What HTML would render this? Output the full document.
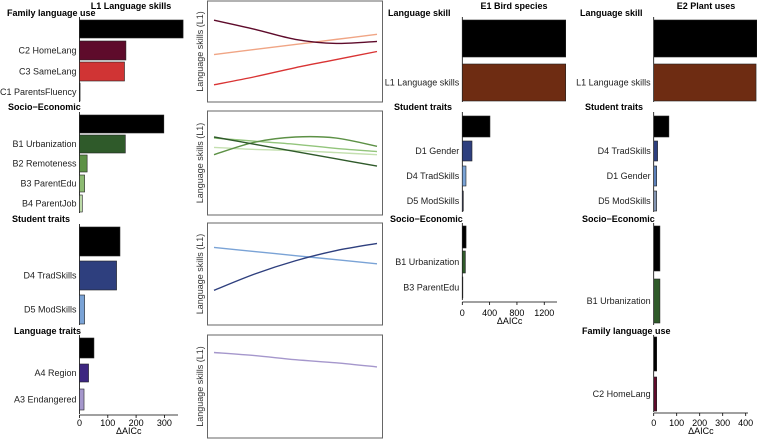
<!DOCTYPE html>
<html><head><meta charset="utf-8">
<style>
html,body{margin:0;padding:0;background:#fff;}
svg{display:block;font-family:"Liberation Sans",Arial,sans-serif;}
</style></head>
<body>
<svg id="chart" width="757" height="440" viewBox="0 0 757 440" xmlns="http://www.w3.org/2000/svg">
<text x="131" y="9" font-size="9" font-weight="bold" text-anchor="middle">L1 Language skills</text>
<text x="514" y="9" font-size="9" font-weight="bold" text-anchor="middle">E1 Bird species</text>
<text x="706" y="9" font-size="9" font-weight="bold" text-anchor="middle">E2 Plant uses</text>
</svg>
<script>
// ---- L1 bar data ----
const l1Labels = ["", "C2 HomeLang", "C3 SameLang", "C1 ParentsFluency", "", "B1 Urbanization", "B2 Remoteness", "B3 ParentEdu", "B4 ParentJob", "", "D4 TradSkills", "D5 ModSkills", "", "A4 Region", "A3 Endangered"];
const l1Values = [366, 164, 159, 2, 298, 162, 27, 18, 10, 143, 131, 18, 51, 32, 16];
const l1Ticks = [0, 100, 200, 300];
// ---- E1 bar data ----
const e1Labels = ["", "L1 Language skills", "", "D1 Gender", "D4 TradSkills", "D5 ModSkills", "", "B1 Urbanization", "B3 ParentEdu"];
const e1Values = [1514, 1514, 405, 142, 54, 15, 55, 45, 8];
const e1Ticks = [0, 400, 800, 1200];
// ---- E2 bar data ----
const e2Labels = ["", "L1 Language skills", "", "D4 TradSkills", "D1 Gender", "D5 ModSkills", "", "B1 Urbanization", "", "C2 HomeLang"];
const e2Values = [452, 445, 66, 17, 13, 13, 27, 27, 13, 13];
const e2Ticks = [0, 100, 200, 300, 400];
// ---- line data (partial effects, relative units 0-100) ----
const lineX = [0, 25, 50, 75, 100];
const p1Maroon = [81, 72, 62, 58, 60];
const p1Salmon = [47, 52, 57, 62, 67];
const p1Red = [17, 25, 34, 42, 50];
const p2Dark = [75, 68, 61, 54, 47];
const p2Mid = [58, 70, 75, 74, 66];
const p2Light = [74, 71, 68, 64, 61];
const p2Pale = [65, 63, 62, 60, 58];
const p3Light = [76, 72, 68, 64, 60];
const p3Navy = [34, 50, 63, 73, 80];
const p4Lav = [83, 80, 76, 73, 69];

const NS = "http://www.w3.org/2000/svg";
const svg = document.getElementById("chart");
function mk(tag, attrs, parent) {
  const e = document.createElementNS(NS, tag);
  for (const k in attrs) e.setAttribute(k, attrs[k]);
  (parent || svg).appendChild(e);
  return e;
}
function txt(x, y, s, size, anchor, bold, parent) {
  const t = mk("text", {x: x, y: y, "font-size": size, "text-anchor": anchor, fill: "#000"}, parent);
  if (bold) t.setAttribute("font-weight", "bold");
  t.textContent = s;
  return t;
}

function barPanel(name, labels, values, ticks, x0, perUnit, axisEnd, axisY, bars, colors, sections, tickLabelY) {
  const g = mk("g", {});
  
  
  const xs = v => x0 + v * perUnit;
  sections.forEach(s => {
    const t = txt(s[2], s[1], s[0], 9, "start", true, g);
    
    
    const l = mk("line", {x1: x0, x2: x0, y1: s[3], y2: s[4], stroke: "#000", "stroke-width": 0.8}, g);
    
    
  });
  values.forEach((v, i) => {
    const r = mk("rect", {x: x0, y: bars[i][0], width: Math.min(xs(v), 757) - x0, height: bars[i][1] - bars[i][0], fill: colors[i], stroke: "#222", "stroke-width": 0.6}, g);
    
    
    if (labels[i]) {
      const t = txt(x0 - 3, (bars[i][0] + bars[i][1]) / 2 + 3.2, labels[i], 9, "end", false, g);
      t.setAttribute('fill', '#222');
      
      
    }
  });
  const ax = mk("line", {x1: x0, x2: axisEnd, y1: axisY, y2: axisY, stroke: "#000", "stroke-width": 0.8}, g);
  
  
  ticks.forEach(tv => {
    const x = xs(tv);
    const tk = mk("line", {x1: x, x2: x, y1: axisY, y2: axisY + 3, stroke: "#000", "stroke-width": 0.8}, g);
    
    
    const t = txt(x, tickLabelY, String(tv), 9, "middle", false, g);
    
    
  });
  const at = txt((x0 + axisEnd) / 2, tickLabelY + 8, "\u0394AICc", 9, "middle", false, g);
  
  
}

barPanel("l1-bar-panel", l1Labels, l1Values, l1Ticks, 79.5, 0.283, 178, 415,
  [[20,38],[41,60],[62,81],[83,101],[115,133],[135,153],[155,172],[175,192],[195,212],[227,256],[261,290],[295,324],[338,358],[364,382],[389,410]],
  ["#000","#5e0b2b","#d03434","#000","#000","#2f5a2a","#5d9146","#8dbb72","#bcdaa8","#000","#2e3f7e","#7aa3d6","#000","#3d2680","#a597cc"],
  [["Family language use",16,7,17,102],["Socio\u2212Economic",110,8,112,213],["Student traits",222,12,224,325],["Language traits",334,14,335,414]], 426);

barPanel("e1-bar-panel", e1Labels, e1Values, e1Ticks, 462.3, 0.0683, 557, 302,
  [[20,57],[64,101],[116,137],[141,161],[166,186],[191,211],[226,248],[251,273],[277,298]],
  ["#000","#6e2c12","#000","#2e3f7e","#7aa3d6","#3b4466","#000","#2f5a2a","#333"],
  [["Language skill",16,388,17,102],["Student traits",110,394,112,212],["Socio\u2212Economic",222,390,223,300]], 316);

barPanel("e2-bar-panel", e2Labels, e2Values, e2Ticks, 653.7, 0.23, 748, 413,
  [[20,57],[64,101],[116,137],[141,161],[166,186],[191,211],[226,271],[279,323],[337,371],[377,411]],
  ["#000","#6e2c12","#000","#2e3f7e","#5b7fb8","#8293b0","#000","#2f5a2a","#000","#5e0b2b"],
  [["Language skill",16,580,17,102],["Student traits",110,585,112,212],["Socio\u2212Economic",222,582,223,325],["Family language use",334,582,335,412]], 426);

function linePanel(name, top, bottom, series) {
  const g = mk("g", {});
  
  
  const box = mk("rect", {x: 207.5, y: top, width: 175, height: bottom - top, fill: "none", stroke: "#666", "stroke-width": 1}, g);
  
  
  const cy = (top + bottom) / 2;
  const yl = txt(0, 0, "Language skills (L1)", 9, "middle", false, g);
  yl.setAttribute('transform', 'translate(203,' + cy + ') rotate(-90)');
  yl.setAttribute('fill', '#333');
  
  
  const xs = v => 214 + v * 1.63;
  const ys = v => bottom - v * (bottom - top) / 100;
  series.forEach(s => {
    const vals = s[0];
    const pts = lineX.map((x, i) => [xs(x), ys(vals[i])]);
    let d = "M" + pts[0][0] + "," + pts[0][1];
    for (let i = 0; i < pts.length - 1; i++) {
      const p0 = pts[Math.max(0, i - 1)], p1 = pts[i], p2 = pts[i + 1], p3 = pts[Math.min(pts.length - 1, i + 2)];
      const c1x = p1[0] + (p2[0] - p0[0]) / 6, c1y = p1[1] + (p2[1] - p0[1]) / 6;
      const c2x = p2[0] - (p3[0] - p1[0]) / 6, c2y = p2[1] - (p3[1] - p1[1]) / 6;
      d += " C" + c1x + "," + c1y + " " + c2x + "," + c2y + " " + p2[0] + "," + p2[1];
    }
    const p = mk("path", {d: d, fill: "none", stroke: s[1], "stroke-width": 1.4}, g);
    
    
  });
}
linePanel("family-effects-panel", 1, 102, [[p1Salmon, "#f0a585", "line-c3-samelang-light"], [p1Red, "#d93434", "line-c3-samelang"], [p1Maroon, "#5e0b2b", "line-c2-homelang"]]);
linePanel("socio-effects-panel", 111, 215, [[p2Pale, "#c4e0b0", "line-b4-parentjob"], [p2Light, "#93c57c", "line-b3-parentedu"], [p2Mid, "#5d9146", "line-b2-remoteness"], [p2Dark, "#2f5a2a", "line-b1-urbanization"]]);
linePanel("student-effects-panel", 223, 325, [[p3Light, "#7aa3d6", "line-d5-modskills"], [p3Navy, "#2e3f7e", "line-d4-tradskills"]]);
linePanel("language-effects-panel", 335, 438, [[p4Lav, "#a597cc", "line-a3-endangered"]]);
</script>
</body></html>
